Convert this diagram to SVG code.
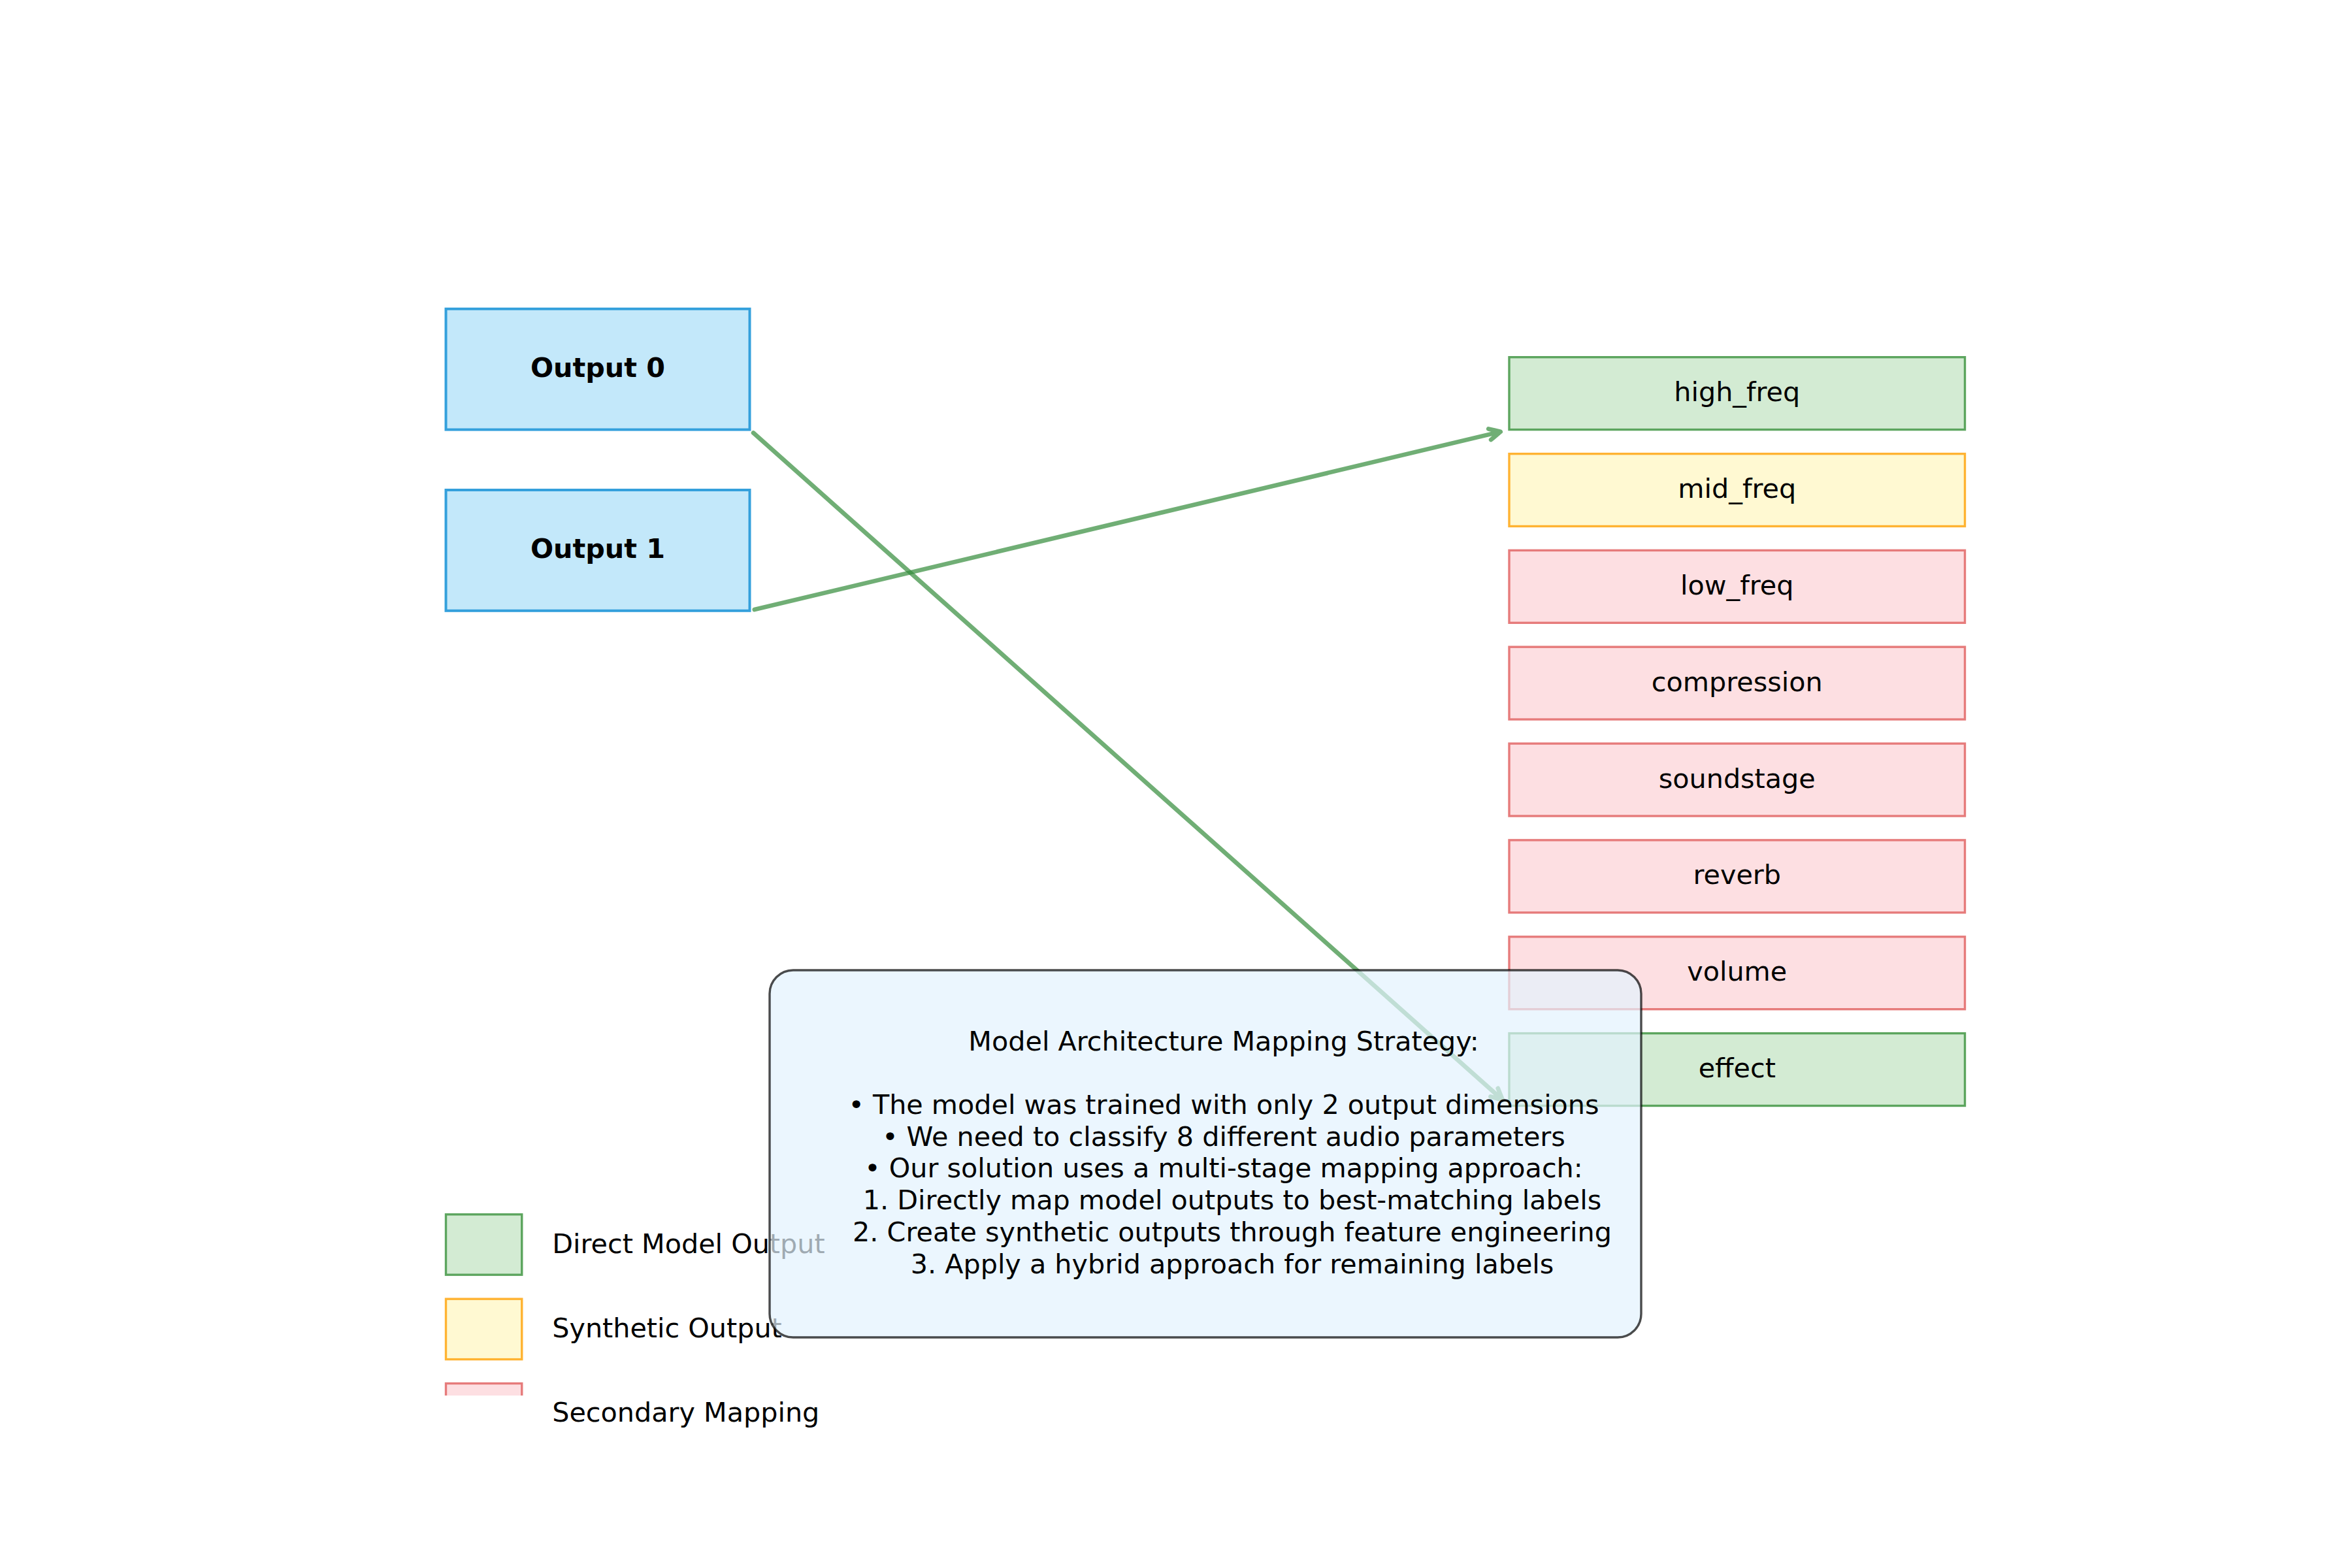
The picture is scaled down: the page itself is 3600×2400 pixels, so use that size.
<svg xmlns="http://www.w3.org/2000/svg" width="3600" height="2400" viewBox="0 0 3600 2400">
<style>
text { font-family: "DejaVu Sans", "Liberation Sans", sans-serif; font-size: 41.3px; fill: #000; }
.bold { font-weight: bold; }
.mid { text-anchor: middle; }
.out { fill: #C3E8FA; stroke: #34A0DC; stroke-width: 4; }
.direct { fill: #D3EBD3; stroke: #5CA55E; stroke-width: 3.4; }
.synth { fill: #FFF9D2; stroke: #FFB332; stroke-width: 3.4; }
.second { fill: #FDDFE2; stroke: #E67B7B; stroke-width: 3.4; }
.arrow { fill: none; stroke: #338B3B; stroke-width: 6.7; stroke-linecap: round; stroke-linejoin: round; }
.summary { fill: #E3F2FD; fill-opacity: 0.7; stroke: #000; stroke-opacity: 0.7; stroke-width: 3.4; }
</style>
<defs>
<clipPath id="axclip"><rect x="0" y="0" width="3600" height="2136"/></clipPath>
</defs>
<rect x="0" y="0" width="3600" height="2400" fill="#fff"/>

<g id="output0">
<rect class="out" x="682.5" y="472.8" width="465" height="184.8"/>
<text class="bold mid" x="915" y="577">Output 0</text>
</g>
<g id="output1">
<rect class="out" x="682.5" y="750" width="465" height="184.8"/>
<text class="bold mid" x="915" y="854">Output 1</text>
</g>

<g id="high_freq">
<rect class="direct" x="2310" y="546.7" width="697.5" height="110.9"/>
<text class="mid" x="2658.75" y="614">high_freq</text>
</g>
<g id="mid_freq">
<rect class="synth" x="2310" y="694.6" width="697.5" height="110.9"/>
<text class="mid" x="2658.75" y="762">mid_freq</text>
</g>
<g id="low_freq">
<rect class="second" x="2310" y="842.4" width="697.5" height="110.9"/>
<text class="mid" x="2658.75" y="910">low_freq</text>
</g>
<g id="compression">
<rect class="second" x="2310" y="990.2" width="697.5" height="110.9"/>
<text class="mid" x="2658.75" y="1057.6">compression</text>
</g>
<g id="soundstage">
<rect class="second" x="2310" y="1138.1" width="697.5" height="110.9"/>
<text class="mid" x="2658.75" y="1205.5">soundstage</text>
</g>
<g id="reverb">
<rect class="second" x="2310" y="1285.9" width="697.5" height="110.9"/>
<text class="mid" x="2658.75" y="1353.3">reverb</text>
</g>
<g id="volume">
<rect class="second" x="2310" y="1433.8" width="697.5" height="110.9"/>
<text class="mid" x="2658.75" y="1501.2">volume</text>
</g>
<g id="effect">
<rect class="direct" x="2310" y="1581.6" width="697.5" height="110.9"/>
<text class="mid" x="2658.75" y="1649">effect</text>
</g>

<g id="connectors">
<g opacity="0.7">
<path class="arrow" d="M1153.1,662.6 L2299.8,1683.4 M2281.45,1678.45 L2299.8,1683.4 L2292.75,1665.75"/>
</g>
<g opacity="0.7">
<path class="arrow" d="M1154.8,933.1 L2296.7,660.8 M2282.13,673.01 L2296.7,660.8 L2278.19,656.47"/>
</g>
</g>

<g id="legend">
<g clip-path="url(#axclip)">
<rect class="direct" x="682.5" y="1858.8" width="116.25" height="92.4"/>
<rect class="synth" x="682.5" y="1988.2" width="116.25" height="92.4"/>
<rect class="second" x="682.5" y="2117.5" width="116.25" height="92.4"/>
</g>
<text x="845.25" y="1917.5">Direct Model Output</text>
<text x="845.25" y="2046.5">Synthetic Output</text>
<text x="845.25" y="2175.5">Secondary Mapping</text>
</g>

<g id="summary">
<rect class="summary" x="1178" y="1485" width="1334" height="562" rx="36" ry="36"/>
<text class="mid" x="1873" y="1607.5">Model Architecture Mapping Strategy:</text>
<text class="mid" x="1873" y="1705">• The model was trained with only 2 output dimensions</text>
<text class="mid" x="1873" y="1753.7">• We need to classify 8 different audio parameters</text>
<text class="mid" x="1873" y="1802.4">• Our solution uses a multi-stage mapping approach:</text>
<text class="mid" x="1886" y="1851.1">1. Directly map model outputs to best-matching labels</text>
<text class="mid" x="1886" y="1899.8">2. Create synthetic outputs through feature engineering</text>
<text class="mid" x="1886" y="1948.5">3. Apply a hybrid approach for remaining labels</text>
</g>
</svg>
